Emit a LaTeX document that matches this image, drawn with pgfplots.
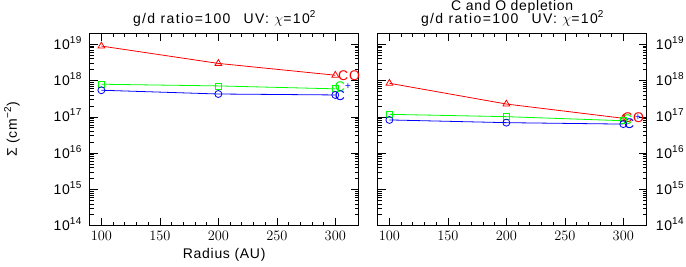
\documentclass[border=0pt]{standalone}
\usepackage{fontspec}
\setmainfont{Liberation Sans}[LetterSpace=5]
\usepackage{pgfplots}
\pgfplotsset{compat=1.18}
\newcommand{\sep}[1]{\raisebox{6pt}{\fontsize{10}{12}\selectfont #1}}
\newcommand{\tl}[1]{10\sep{#1}}
\newcommand{\ttl}{{\addfontfeature{LetterSpace=10}g/d ratio=100\hspace{13pt}UV: $\chi$=10\sep{2}}}
\begin{document}
\begin{tikzpicture}[font=\fontsize{14}{16}\selectfont]
\useasboundingbox (0,0) rectangle (686pt,266pt);
% left panel
\begin{axis}[ymode=log,
  scale only axis, width=269pt, height=192.4pt, anchor=south west,
  at={(89.7pt,40.3pt)},
  xmin=90, xmax=320, ymin=1e14, ymax=2e19,
  xtick={100,150,200,250,300}, minor x tick num=4,
  ytick={1e14,1e15,1e16,1e17,1e18,1e19},
  yticklabels={\tl{14},\tl{15},\tl{16},\tl{17},\tl{18},\tl{19}},
  minor ytick={2e14,3e14,4e14,5e14,6e14,7e14,8e14,9e14,
               2e15,3e15,4e15,5e15,6e15,7e15,8e15,9e15,
               2e16,3e16,4e16,5e16,6e16,7e16,8e16,9e16,
               2e17,3e17,4e17,5e17,6e17,7e17,8e17,9e17,
               2e18,3e18,4e18,5e18,6e18,7e18,8e18,9e18,2e19},
  tick align=inside, major tick length=8pt, minor tick length=4pt,
  xtick pos=both, ytick pos=both,
  xticklabel style={anchor=base, inner sep=0pt, yshift=-15.3pt},
  axis line style={line width=0.7pt}, tick style={black, line width=0.6pt},
  clip=false,
  title style={at={(0.5,1)}, anchor=base, yshift=4pt, inner sep=0pt},
  yticklabel pos=left,
  yticklabel style={anchor=base east, inner sep=0pt, xshift=-8pt, yshift=-5pt},
  title={\ttl}]
\addplot[red, line width=0.8pt, mark=triangle, mark size=3.9pt] coordinates {(100,8.9e18) (200,2.96e18) (300,1.4e18)};
\addplot[green, line width=0.8pt, mark=square, mark size=3pt] coordinates {(100,7.9e17) (200,7.1e17) (300,5.9e17)};
\addplot[blue, line width=0.8pt, mark=o, mark size=3.5pt] coordinates {(100,5.4e17) (200,4.25e17) (300,4e17)};
\node[red, anchor=west, inner sep=0pt] at (axis cs:302.3,1.4e18) {CO};
\node[green, inner sep=0pt] at (axis cs:304,6.75e17) {C};
\node[blue, inner sep=0pt, font=\fontsize{10}{12}\selectfont] at (axis cs:310.8,6.9e17) {+};
\node[blue, inner sep=0pt] at (axis cs:304,3.74e17) {C};
\end{axis}
% right panel
\begin{axis}[ymode=log,
  scale only axis, width=269pt, height=192.4pt, anchor=south west,
  at={(377.7pt,40.3pt)},
  xmin=90, xmax=320, ymin=1e14, ymax=2e19,
  xtick={100,150,200,250,300}, minor x tick num=4,
  ytick={1e14,1e15,1e16,1e17,1e18,1e19},
  yticklabels={\tl{14},\tl{15},\tl{16},\tl{17},\tl{18},\tl{19}},
  minor ytick={2e14,3e14,4e14,5e14,6e14,7e14,8e14,9e14,
               2e15,3e15,4e15,5e15,6e15,7e15,8e15,9e15,
               2e16,3e16,4e16,5e16,6e16,7e16,8e16,9e16,
               2e17,3e17,4e17,5e17,6e17,7e17,8e17,9e17,
               2e18,3e18,4e18,5e18,6e18,7e18,8e18,9e18,2e19},
  tick align=inside, major tick length=8pt, minor tick length=4pt,
  xtick pos=both, ytick pos=both,
  xticklabel style={anchor=base, inner sep=0pt, yshift=-15.3pt},
  axis line style={line width=0.7pt}, tick style={black, line width=0.6pt},
  clip=false,
  title style={at={(0.5,1)}, anchor=base, yshift=4pt, inner sep=0pt},
  yticklabel pos=right,
  yticklabel style={anchor=base west, inner sep=0pt, xshift=9pt, yshift=-5pt},
  title={\ttl}]
\addplot[red, line width=0.8pt, mark=triangle, mark size=3.9pt] coordinates {(100,8.4e17) (200,2.25e17) (300,9.1e16)};
\addplot[green, line width=0.8pt, mark=square, mark size=3pt] coordinates {(100,1.17e17) (200,1.01e17) (300,7.8e16)};
\addplot[blue, line width=0.8pt, mark=o, mark size=3.5pt] coordinates {(100,8.2e16) (200,6.9e16) (300,6.3e16)};
\node[red, anchor=west, inner sep=0pt] at (axis cs:299,9.3e16) {CO};
\node[green, inner sep=0pt] at (axis cs:303.2,8.1e16) {C};
\node[blue, inner sep=0pt, font=\fontsize{10}{12}\selectfont] at (axis cs:312.6,9.8e16) {+};
\node[blue, inner sep=0pt] at (axis cs:305,6.3e16) {C};
\end{axis}
\node[rotate=90, anchor=base, inner sep=0pt] at (17pt,136.5pt) {Σ (cm\sep{−2})};
\node[anchor=base, inner sep=0pt] at (224.2pt,8pt) {Radius (AU)};
\node[anchor=base, inner sep=0pt] at (512.2pt,256pt) {C and O depletion};
\end{tikzpicture}
\end{document}
